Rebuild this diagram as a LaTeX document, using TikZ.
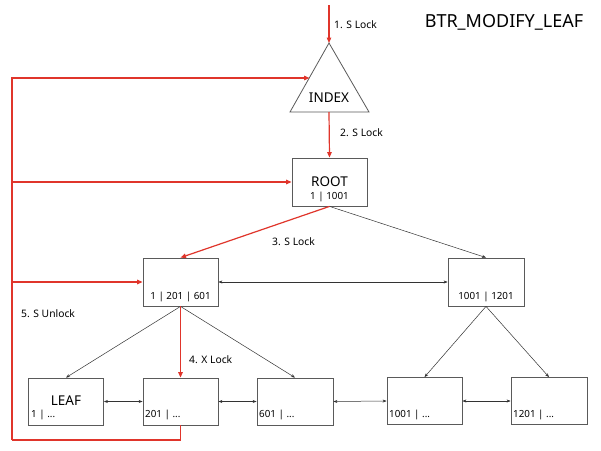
\documentclass[tikz,border=0pt]{standalone}
\usepackage{fontspec}
\setmainfont{Noto Sans}
\usetikzlibrary{arrows.meta,calc}
\definecolor{lockred}{HTML}{E0352B}
\definecolor{boxgray}{HTML}{5A5A5A}
\begin{document}
\begin{tikzpicture}[x=1pt,y=-1pt,
  box/.style={draw=boxgray,line width=0.8pt,minimum width=75pt,minimum height=47pt,inner sep=0pt},
  redl/.style={draw=lockred,line width=1.2pt},
  redarr/.style={redl,-{Triangle[length=5.5pt,width=4.5pt]}},
  blk/.style={draw=black!80,line width=0.5pt,-{Stealth[length=4pt,width=3pt]}},
  dbl/.style={draw=black!80,line width=0.5pt,{Stealth[length=4pt,width=3pt]}-{Stealth[length=4pt,width=3pt]}},
  lbl/.style={font=\fontsize{10.3}{12}\selectfont,inner sep=0pt},
  big/.style={font=\fontsize{13.5}{15}\selectfont,inner sep=0pt},
  small/.style={font=\fontsize{9.8}{11}\selectfont,inner sep=0pt}]
\useasboundingbox (0,0) rectangle (601,450);
\fill[white] (0,0) rectangle (601,450);

% title
\node[font=\fontsize{18}{21}\selectfont,inner sep=0pt] (title) at (504,22) {BTR\_MODIFY\_LEAF};

% index triangle
\coordinate (apex) at (329,43);
\coordinate (tbl) at (290,112);
\coordinate (tbr) at (369,112);
\coordinate (tbase) at (329,112);
\coordinate (tin) at (309.5,78);
\draw[boxgray,line width=0.8pt] (apex) -- (tbr) -- (tbl) -- cycle;
\node[big] (index) at (329,98) {INDEX};
\coordinate (topin) at (329,5);

% boxes
\node[box,minimum height=48pt] (root) at (329.5,182) {};
\node[big] (roott) at (329.5,182) {ROOT};
\node[small] (rootk) at (329.5,197) {1 | 1001};

\node[box,minimum height=48pt] (l2a) at (180.5,282) {};
\node[small] (l2ak) at (180.5,297) {1 | 201 | 601};
\node[box,minimum width=76pt,minimum height=48pt] (l2b) at (486,282) {};
\node[small] (l2bk) at (486,297) {1001 | 1201};

\node[box] (leaf) at (66,401.5) {};
\node[big] (leaft) at (66,401) {LEAF};
\node[small,anchor=west] (leafk) at (31,415) {1 | ...};
\node[box] (b201) at (180.5,401.5) {};
\node[small,anchor=west] (b201k) at (145,415) {201 | ...};
\node[box,minimum width=76pt] (b601) at (295,401.5) {};
\node[small,anchor=west] (b601k) at (259,415) {601 | ...};
\node[box] (b1001) at (424.5,401) {};
\node[small,anchor=west] (b1001k) at (389,415) {1001 | ...};
\node[box,minimum width=76pt] (b1201) at (549,401) {};
\node[small,anchor=west] (b1201k) at (513,415) {1201 | ...};

% black connectors
\draw[blk] (root.south) -- (l2b.north);
\draw[blk] (l2a.south) -- (leaf.north);
\draw[blk] (l2a.south) -- (b601.north);
\draw[blk] (l2b.south) -- (b1001.north);
\draw[blk] (l2b.south) -- (b1201.north);
\draw[dbl] (l2a.east) -- (l2b.west);
\draw[dbl] (leaf.east) -- (b201.west);
\draw[dbl] (b201.east) -- (b601.west);
\draw[dbl] (b601.east) -- (b1001.west);
\draw[dbl] (b1001.east) -- (b1201.west);

% red connectors
\draw[redarr] (topin) -- (apex);
\draw[redarr] (tbase) -- (root.north);
\draw[redarr] (root.south) -- (l2a.north);
\draw[redarr] (l2a.south) -- (b201.north);
\coordinate (lpb) at (12,440);
\coordinate (j1) at (12,182);
\coordinate (j2) at (12,282);
\draw[redl] (b201.south) |- (lpb);
\draw[redarr] (lpb) |- (tin);
\draw[redarr] (j1) -- (root.west);
\draw[redarr] (j2) -- (l2a.west);

% labels
\node[lbl,anchor=west] (s1) at (334,25) {1. S Lock};
\node[lbl,anchor=west] (s2) at (340,133) {2. S Lock};
\node[lbl,anchor=west] (s3) at (272,242) {3. S Lock};
\node[lbl,anchor=west] (s4) at (189,360) {4. X Lock};
\node[lbl,anchor=west] (s5) at (21,314) {5. S Unlock};
\end{tikzpicture}
\end{document}
